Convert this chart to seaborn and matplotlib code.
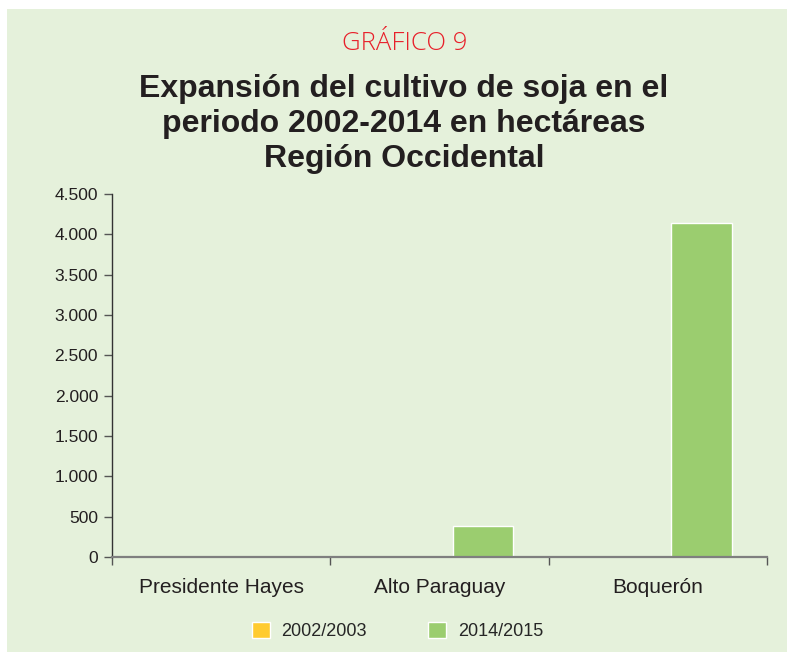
import pandas as pd
import matplotlib.pyplot as plt
import seaborn as sns
from matplotlib.patches import Rectangle
from matplotlib.ticker import FuncFormatter, FixedLocator

# data (hectares)
regions = ['Presidente Hayes', 'Alto Paraguay', 'Boquerón']
periods = ['2002/2003', '2014/2015']
ha_2002 = [0, 0, 0]
ha_2014 = [0, 380, 4140]
colors = ['#FFCB2F', '#9BCD6F']

df = pd.DataFrame({
    'region': regions * 2,
    'period': [periods[0]] * 3 + [periods[1]] * 3,
    'ha': ha_2002 + ha_2014,
})

sns.set_theme(style='white')
plt.rcParams['font.family'] = ['Liberation Sans', 'DejaVu Sans']
bg = '#E5F1DB'

fig = plt.figure(figsize=(7.87, 6.52), dpi=100)
fig.patch.set_facecolor('white')
fig.patches.append(Rectangle((7 / 787, 0), 1, 643 / 652, transform=fig.transFigure,
                             facecolor=bg, edgecolor='none', zorder=-5))

ax = fig.add_axes([112 / 787, 95 / 652, 655 / 787, 363 / 652])
ax.set_facecolor(bg)
sns.barplot(data=df, x='region', y='ha', hue='period', palette=colors,
            width=0.8, gap=0.31, saturation=1, ax=ax, legend=True)

ax.set_ylim(0, 4500)
ax.set_xlim(-0.5, 2.5)
ax.set_yticks(range(0, 4501, 500))
ax.yaxis.set_major_formatter(FuncFormatter(lambda v, p: f'{int(v):,}'.replace(',', '.')))
ax.set_xlabel('')
ax.set_ylabel('')

for s in ['top', 'right']:
    ax.spines[s].set_visible(False)
ax.spines['left'].set_color('#333333')
ax.spines['left'].set_linewidth(1.0)
ax.spines['bottom'].set_color('#7f7f7f')
ax.spines['bottom'].set_linewidth(1.6)

ax.tick_params(axis='y', left=True, length=6, width=1, color='#555555',
               labelsize=12.5, labelcolor='#231f20', pad=4)
ax.tick_params(axis='x', which='major', bottom=False, labelsize=15,
               labelcolor='#231f20', pad=9)
ax.xaxis.set_minor_locator(FixedLocator([-0.5, 0.5, 1.5, 2.5]))
ax.tick_params(axis='x', which='minor', bottom=True, length=6, width=1, color='#555555')

handles, labels = ax.get_legend_handles_labels()
ax.legend_.remove()
fig.legend(handles, labels, loc='center', bbox_to_anchor=(0.505, 0.032), ncol=2,
           frameon=False, handlelength=1.0, handleheight=1.0, columnspacing=3.4,
           handletextpad=0.65, prop={'family': 'Liberation Sans', 'size': 13})

fig.text(405 / 787, 1 - 44 / 652, 'GRÁFICO 9', ha='center', va='center',
         color='#E8202A', fontsize=18.5, family='Open Sans', fontweight='light')
fig.text(404 / 787, 1 - 124 / 652,
         'Expansión del cultivo de soja en el\nperiodo 2002-2014 en hectáreas\nRegión Occidental',
         ha='center', va='center', color='#231f20', fontsize=23,
         family='Liberation Sans', fontweight='bold', linespacing=1.2)

fig.savefig('out.png', dpi=100)
